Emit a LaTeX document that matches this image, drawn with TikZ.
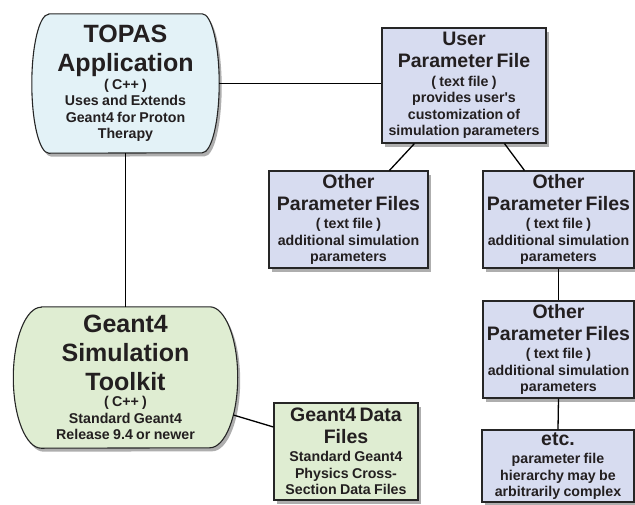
\documentclass[tikz,border=0pt]{standalone}
\usepackage{fontspec}
\newfontfamily\hvfont{Liberation Sans}
\usetikzlibrary{shadows,calc,backgrounds}
\definecolor{topasfill}{HTML}{E3F2F7}
\definecolor{parfill}{HTML}{D7DCF0}
\definecolor{gfill}{HTML}{DFEDD2}
\definecolor{txt}{HTML}{231F20}
\newcommand\ftbig{\hvfont\fontsize{19.5}{22}\selectfont\bfseries}
\newcommand\fthuge{\hvfont\fontsize{25}{29}\selectfont\bfseries}
\newcommand\ftsmall{\hvfont\fontsize{14.2}{16.5}\selectfont\bfseries}
\tikzset{
  shad/.style={drop shadow={shadow xshift=2.5pt, shadow yshift=-3.5pt, opacity=0.45, fill=black!70}},
  filebox/.style={draw=black!85, line width=1.1pt, fill=parfill, shad, inner sep=0pt, align=center, text=txt},
  shapeline/.style={draw=black!85, line width=1.1pt, shad},
  conn/.style={draw=black, line width=1.3pt},
  lbl/.style={inner sep=0pt, align=center, text=txt},
}
\begin{document}
\begin{tikzpicture}[x=1pt,y=-1pt]
\useasboundingbox (0,0) rectangle (635,504);

% TOPAS application
\node[lbl, text width=187pt, minimum height=139pt] (topas) at (125.5,83.5)
  {{\fthuge TOPAS\par Application\par}\vspace{1pt}{\ftsmall ( C++ )\par Uses and Extends\par Geant4 for Proton\par Therapy\par}};

% Geant4 toolkit
\node[lbl, text width=224pt, minimum height=141pt] (geant) at (125.5,377.5)
  {{\fthuge Geant4\par Simulation\par Toolkit\par}{\ftsmall ( C++ )\par Standard Geant4\par Release 9.4 or newer\par}};

\begin{scope}[on background layer]
\fill[white] (0,0) rectangle (635,504);
\path[shapeline, fill=topasfill]
  ($(topas.north west)+(17,0)$) -- ($(topas.north east)+(-17,0)$)
  arc[start angle=90, end angle=-90, x radius=17pt, y radius=69.5pt]
  -- ($(topas.south west)+(17,0)$)
  arc[start angle=270, end angle=90, x radius=17pt, y radius=69.5pt] -- cycle;
\path[shapeline, fill=gfill]
  ($(geant.north west)+(28,0)$) -- ($(geant.north east)+(-28,0)$)
  arc[start angle=90, end angle=-90, x radius=28pt, y radius=70.5pt]
  -- ($(geant.south west)+(28,0)$)
  arc[start angle=270, end angle=90, x radius=28pt, y radius=70.5pt] -- cycle;
\end{scope}

% parameter files
\node[filebox, text width=164pt, minimum height=115pt] (user) at (464,85.5)
  {{\ftbig User\par Parameter File\par}\vspace{2pt}{\ftsmall ( text file )\par provides user's\par customization of\par simulation parameters\par}};
\node[filebox, text width=159pt, minimum height=97pt] (other1) at (348.5,219.5)
  {{\ftbig Other\par Parameter Files\par}\vspace{2pt}{\ftsmall ( text file )\par additional simulation\par parameters\par}};
\node[filebox, text width=151pt, minimum height=97pt] (other2) at (558.5,219.5)
  {{\ftbig Other\par Parameter Files\par}\vspace{2pt}{\ftsmall ( text file )\par additional simulation\par parameters\par}};
\node[filebox, text width=151pt, minimum height=97pt] (other3) at (558.5,349.5)
  {{\ftbig Other\par Parameter Files\par}\vspace{2pt}{\ftsmall ( text file )\par additional simulation\par parameters\par}};
\node[filebox, text width=152pt, minimum height=72pt] (etc) at (558,466)
  {{\ftbig etc.\par}\vspace{2pt}{\ftsmall parameter file\par hierarchy may be\par arbitrarily complex\par}};
\node[filebox, fill=gfill, text width=144pt, minimum height=97pt] (data) at (346,451.5)
  {{\ftbig Geant4 Data\par Files\par}\vspace{2pt}{\ftsmall Standard Geant4\par Physics Cross-\par Section Data Files\par}};

% connectors
\draw[conn] (topas.east) -- (topas.east -| user.west);
\draw[conn] (topas.south) -- (geant.north);
\draw[conn] ($(user.south west)+(33,0)$) -- ($(other1.north west)+(121,0)$);
\draw[conn] ($(user.south west)+(123,0)$) -- ($(other2.north west)+(42,0)$);
\draw[conn] (other2.south) -- (other3.north);
\draw[conn] (other3.south) -- (etc.north);
\draw[conn] ($(geant.east)+(-4.3,37.5)$) -- ($(data.west)+(0,-24.5)$);
\end{tikzpicture}
\end{document}
